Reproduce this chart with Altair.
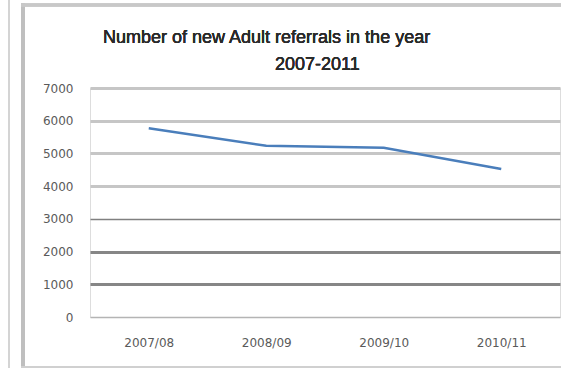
import altair as alt
import pandas as pd

years = ["2007/08", "2008/09", "2009/10", "2010/11"]
referrals = [5770, 5235, 5175, 4525]
title_line1 = "Number of new Adult referrals in the year"
title_line2 = "2007-2011"

df = pd.DataFrame({"year": years, "referrals": referrals})

grid_color = {
    "condition": [
        {"test": "datum.value >= 4000", "value": "#c6c6c6"},
        {"test": "datum.value == 3000", "value": "#808080"},
        {"test": "datum.value >= 1000", "value": "#868686"},
    ],
    "value": "#b4b4b4",
}
grid_width = {
    "condition": [
        {"test": "datum.value >= 4000", "value": 3},
        {"test": "datum.value == 3000", "value": 1.5},
        {"test": "datum.value >= 1000", "value": 3},
    ],
    "value": 1.5,
}

line = alt.Chart(df).mark_line(color="#4a7ebb", strokeWidth=2.5).encode(
    x=alt.X("year:N", sort=years, title=None,
            scale=alt.Scale(paddingInner=0, paddingOuter=0),
            axis=alt.Axis(labelAngle=0, domain=False, ticks=False, labelPadding=20,
                          labelFont="DejaVu Sans", labelFontSize=12, labelColor="#5a5a5a")),
    y=alt.Y("referrals:Q", title=None,
            scale=alt.Scale(domain=[0, 7000], nice=False),
            axis=alt.Axis(values=[0, 1000, 2000, 3000, 4000, 5000, 6000, 7000],
                          format="d", domain=False, ticks=False, labelPadding=17,
                          labelFont="DejaVu Sans", labelFontSize=12, labelColor="#5a5a5a",
                          gridColor=grid_color, gridWidth=grid_width)),
)

t1 = alt.Chart(df).mark_text(align="left", baseline="alphabetic", font="Liberation Sans",
                             fontWeight="normal", fontSize=18, color="#2a2a2a").encode(
    x=alt.value(13), y=alt.value(-45), text=alt.value(title_line1))
t2 = alt.Chart(df).mark_text(align="left", baseline="alphabetic", font="Liberation Sans",
                             fontWeight="normal", fontSize=18, color="#2a2a2a").encode(
    x=alt.value(185), y=alt.value(-18), text=alt.value(title_line2))

frame_left = alt.Chart(df).mark_rule(color="#bfbfbf", strokeWidth=4).encode(
    x=alt.value(-67), y=alt.value(-85), y2=alt.value(282))
frame_top = alt.Chart(df).mark_rule(color="#c8c8c8", strokeWidth=3).encode(
    x=alt.value(-69), x2=alt.value(480), y=alt.value(-83))
frame_bottom = alt.Chart(df).mark_rule(color="#d0d0d0", strokeWidth=2).encode(
    x=alt.value(-69), x2=alt.value(480), y=alt.value(279))
side = alt.Chart(df).mark_rule(color="#d4d4d4", strokeWidth=2).encode(
    x=alt.value(-81), y=alt.value(-88), y2=alt.value(282))

chart = alt.layer(side, frame_left, frame_top, frame_bottom, line, t1, t2).properties(
    width=470, height=229,
    autosize=alt.AutoSizeParams(type="none"),
    padding={"left": 90, "top": 88, "right": 1, "bottom": 51},
).configure_view(stroke=None).configure(background="white")

chart.save("out.html", embed_options={"renderer": "svg", "actions": False})
